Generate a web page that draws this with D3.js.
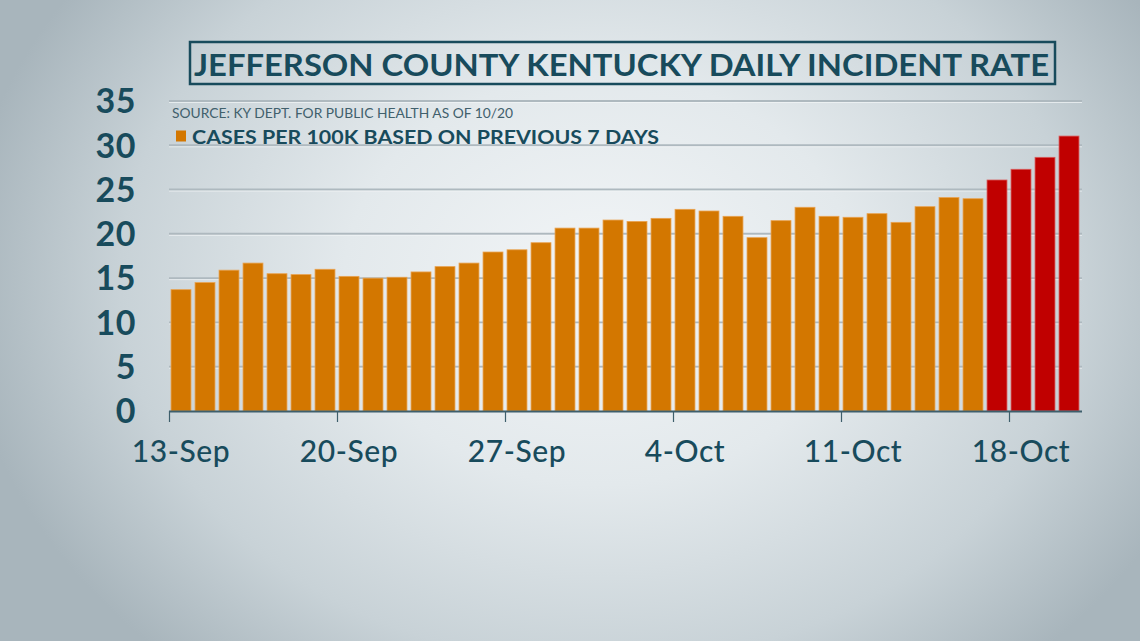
<!DOCTYPE html>
<html>
<head>
<meta charset="utf-8">
<script src="https://cdn.jsdelivr.net/npm/d3@7"></script>
<style>
html,body{margin:0;padding:0;overflow:hidden;}
svg{display:block;}
</style>
</head>
<body>
<svg id="chart" width="1140" height="641"></svg>
<script>
// ---- data ----
const dates = ["13-Sep","14-Sep","15-Sep","16-Sep","17-Sep","18-Sep","19-Sep","20-Sep","21-Sep","22-Sep","23-Sep","24-Sep","25-Sep","26-Sep","27-Sep","28-Sep","29-Sep","30-Sep","1-Oct","2-Oct","3-Oct","4-Oct","5-Oct","6-Oct","7-Oct","8-Oct","9-Oct","10-Oct","11-Oct","12-Oct","13-Oct","14-Oct","15-Oct","16-Oct","17-Oct","18-Oct","19-Oct","20-Oct"];
const rates = [13.7,14.5,15.9,16.7,15.5,15.4,16.0,15.2,15.0,15.1,15.7,16.3,16.7,17.95,18.2,19.0,20.65,20.65,21.56,21.4,21.75,22.77,22.58,21.98,19.57,21.49,23.0,21.98,21.87,22.28,21.3,23.07,24.1,23.97,26.08,27.29,28.64,31.04];
const highlighted = ["17-Oct","18-Oct","19-Oct","20-Oct"];
const yTicks = [0,5,10,15,20,25,30,35];
const xTickLabels = ["13-Sep","20-Sep","27-Sep","4-Oct","11-Oct","18-Oct"];
const titleText = "JEFFERSON COUNTY KENTUCKY DAILY INCIDENT RATE";
const sourceText = "SOURCE: KY DEPT. FOR PUBLIC HEALTH AS OF 10/20";
const legendText = "CASES PER 100K BASED ON PREVIOUS 7 DAYS";

const W = 1140, H = 641;
const svg = d3.select("#chart");
const teal = "#184b5c";

// background
const defs = svg.append("defs");
const rg = defs.append("radialGradient").attr("id","bg")
  .attr("gradientUnits","userSpaceOnUse")
  .attr("cx",600).attr("cy",280).attr("r",640)
  .attr("gradientTransform","translate(600,280) scale(1,0.8) translate(-600,-280)");
rg.append("stop").attr("offset","0%").attr("stop-color","#f2f5f7");
rg.append("stop").attr("offset","40%").attr("stop-color","#e3e9ec");
rg.append("stop").attr("offset","75%").attr("stop-color","#c8d2d7");
rg.append("stop").attr("offset","100%").attr("stop-color","#a8b5bc");
svg.append("rect").attr("width",W).attr("height",H).attr("fill","url(#bg)");

// scales
const x = d3.scaleBand().domain(dates).range([169,1081]).paddingInner(0.17).paddingOuter(0.085);
const y = d3.scaleLinear().domain([0,35]).range([411,101]);

// gridlines
const grid = svg.append("g");
grid.selectAll("line.g").data(yTicks.filter(d=>d>0)).join("line")
  .attr("x1",169).attr("x2",1082)
  .attr("y1",d=>y(d)).attr("y2",d=>y(d))
  .attr("stroke","#aeb9bf").attr("stroke-width",2);
grid.selectAll("line.h").data(yTicks.filter(d=>d>0)).join("line")
  .attr("x1",169).attr("x2",1082)
  .attr("y1",d=>y(d)+1.5).attr("y2",d=>y(d)+1.5)
  .attr("stroke","#f4f7f8").attr("stroke-width",1).attr("opacity",0.7);

// bars
svg.append("g").selectAll("rect").data(dates).join("rect")
  .attr("x",d=>x(d)).attr("width",x.bandwidth())
  .attr("y",(d,i)=>y(rates[i])).attr("height",(d,i)=>y(0)-y(rates[i]))
  .attr("fill",d=>highlighted.includes(d)?"#c00000":"#d37700")
  .attr("stroke",d=>highlighted.includes(d)?"#d95a5a":"#e9a24f")
  .attr("stroke-width",0.8);

// x axis
const xAxisG = svg.append("g");
xAxisG.append("line").attr("x1",169).attr("x2",1082).attr("y1",411.5).attr("y2",411.5)
  .attr("stroke","#3e5f6c").attr("stroke-width",2);
xAxisG.selectAll("line.t").data(xTickLabels).join("line")
  .attr("x1",d=>Math.round(x(d)-x.step()*x.paddingInner()/2)+0.5)
  .attr("x2",d=>Math.round(x(d)-x.step()*x.paddingInner()/2)+0.5)
  .attr("y1",411).attr("y2",422)
  .attr("stroke","#3e5f6c").attr("stroke-width",1.2);
xAxisG.selectAll("text").data(xTickLabels).join("text")
  .attr("x",d=>x(d)+x.bandwidth()/2).attr("y",462)
  .attr("text-anchor","middle")
  .attr("font-family","Lato, 'Open Sans', sans-serif").attr("font-weight",500)
  .attr("font-size",30).attr("letter-spacing",0.6).attr("fill",teal)
  .text(d=>d);

// y axis labels
svg.append("g").selectAll("text").data(yTicks).join("text")
  .attr("x",136).attr("y",d=>y(d)).attr("dy","0.36em")
  .attr("text-anchor","end")
  .attr("font-family","Lato, 'Open Sans', sans-serif").attr("font-weight",700)
  .attr("font-size",34).attr("letter-spacing",0.5).attr("fill",teal)
  .text(d=>d);

// title box
svg.append("rect").attr("x",190).attr("y",42).attr("width",865).attr("height",42)
  .attr("fill","none").attr("stroke",teal).attr("stroke-width",2.5);
svg.append("text").attr("x",194).attr("y",75.5)
  .attr("textLength",855).attr("lengthAdjust","spacingAndGlyphs")
  .attr("font-family","Lato, 'Open Sans', sans-serif").attr("font-weight",700)
  .attr("font-size",30).attr("fill",teal)
  .text(titleText);

// source
svg.append("text").attr("x",172).attr("y",118)
  .attr("textLength",341).attr("lengthAdjust","spacingAndGlyphs")
  .attr("font-family","Lato, 'Open Sans', sans-serif").attr("font-weight",400)
  .attr("font-size",13.5).attr("fill","#41606c")
  .text(sourceText);

// legend
svg.append("rect").attr("x",176).attr("y",130.5).attr("width",10).attr("height",11)
  .attr("fill","#d37700");
svg.append("text").attr("x",192).attr("y",143.5)
  .attr("textLength",467).attr("lengthAdjust","spacingAndGlyphs")
  .attr("font-family","Lato, 'Open Sans', sans-serif").attr("font-weight",700)
  .attr("font-size",19.5).attr("fill",teal)
  .text(legendText);
</script>
</body>
</html>
